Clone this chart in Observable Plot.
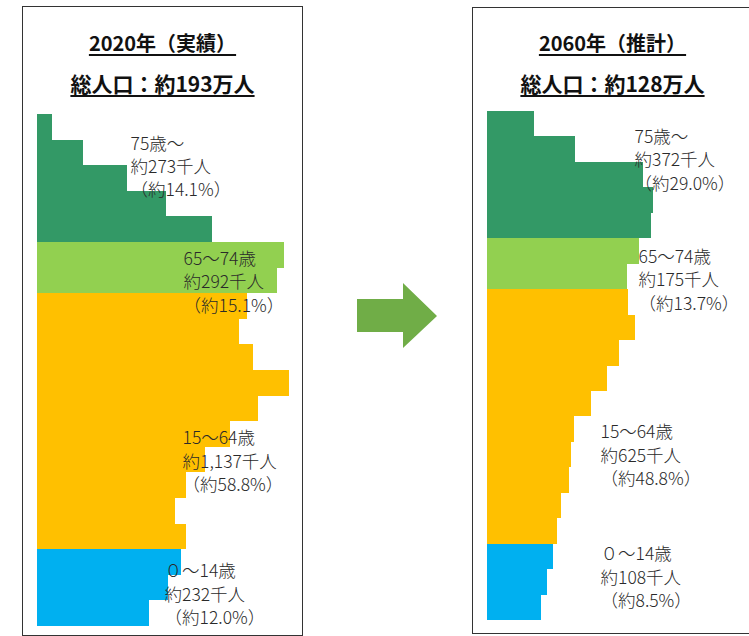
<!DOCTYPE html>
<html><head><meta charset="utf-8">
<script src="https://cdn.jsdelivr.net/npm/d3@7"></script>
<script src="https://cdn.jsdelivr.net/npm/@observablehq/plot@0.6"></script>
<style>
html,body{margin:0;padding:0;background:#fff;width:749px;height:636px;overflow:hidden;position:relative;font-family:"Noto Sans CJK JP","Noto Sans",sans-serif;}
.box{position:absolute;box-sizing:border-box;border:1.5px solid #333;}
.title{position:absolute;left:0;right:0;text-align:center;font-weight:bold;font-size:20px;line-height:24px;color:#111;}
.title span{text-decoration:underline;text-underline-offset:3px;text-decoration-thickness:1.5px;}
.chart{position:absolute;}
.arrow{position:absolute;left:357px;top:283px;width:80px;height:65px;background:#70AD47;
clip-path:polygon(0 16px,46px 16px,46px 0,80px 33px,46px 65px,46px 49px,0 49px);}
</style>
</head><body>
<div class="box" style="left:22px;top:6px;width:281px;height:630px">
  <div class="title" style="top:24px"><span>2020年（実績）</span></div>
  <div class="title" style="top:64px;font-size:21px"><span>総人口：約193万人</span></div>
</div>
<div class="box" style="left:472px;top:7px;width:281px;height:627px">
  <div class="title" style="top:23px"><span>2060年（推計）</span></div>
  <div class="title" style="top:63px;font-size:21px"><span>総人口：約128万人</span></div>
</div>
<div class="arrow"></div>
<div id="c2020" class="chart" style="left:37px;top:114px"></div>
<div id="c2060" class="chart" style="left:487px;top:111px"></div>
<script>
// Age classes, top (oldest) to bottom (youngest)
const ages = ["95+","90-94","85-89","80-84","75-79","70-74","65-69","60-64","55-59","50-54",
              "45-49","40-44","35-39","30-34","25-29","20-24","15-19","10-14","5-9","0-4"];
// Broad age group of each age class
const ageGroup = ["75+","75+","75+","75+","75+","65-74","65-74",
                  "15-64","15-64","15-64","15-64","15-64","15-64","15-64","15-64","15-64","15-64",
                  "0-14","0-14","0-14"];
const groups = ["75+","65-74","15-64","0-14"];
const groupColors = ["#339966","#92D050","#FFC000","#00B0F0"];

// Population, thousands
const pop2020 = [9,27.5,54,77.5,105,148,144,126,121,129.5,151,132.5,115.5,100.5,89.5,83,89.5,86.5,78.5,67];
const pop2060 = [28,53,93.5,99.5,98.5,91,84,84.5,89,79,72,62.5,52,50.5,49,44.5,42,39.5,36,32.5];

// Group labels
const labelNames = ["75歳～","65～74歳","15～64歳","０～14歳"];
const labels2020 = ["約273千人","約292千人","約1,137千人","約232千人"];
const shares2020 = ["（約14.1%）","（約15.1%）","（約58.8%）","（約12.0%）"];
const labels2060 = ["約372千人","約175千人","約625千人","約108千人"];
const shares2060 = ["（約29.0%）","（約13.7%）","（約48.8%）","（約8.5%）"];

const K = 1.667; // px per thousand
function chart(el, pop, counts, shares, H, place) {
  const data = ages.map((a, i) => ({age: a, value: pop[i], group: ageGroup[i]}));
  const textMarks = groups.map((g, i) => Plot.text([{
      x: place[i].x, y: place[i].row,
      t: labelNames[i] + "\n" + counts[i] + "\n" + shares[i]}], {
      x: "x", y: "y", text: "t", dy: place[i].dy,
      textAnchor: "start", lineAnchor: "middle", lineHeight: 1.34,
      fontSize: 17.5, fontWeight: 300, fill: "#2a2a2a", fontFamily: "'Noto Sans CJK JP'"}));
  const p = Plot.plot({
    width: 262, height: H + 10, margin: 0,
    style: {background: "transparent", overflow: "visible"},
    x: {domain: [0, 150], range: [0, 150 * K], axis: null},
    y: {domain: ages, range: [0, H], padding: 0, round: false, axis: null},
    color: {domain: groups, range: groupColors},
    marks: [
      Plot.barX(data, {x: "value", y: "age", fill: "group", shapeRendering: "crispEdges"}),
      ...textMarks
    ]
  });
  document.getElementById(el).appendChild(p);
}
chart("c2020", pop2020, labels2020, shares2020, 512, [
  {x: 55.8, row: "85-89", dy: -13},
  {x: 87.6, row: "65-69", dy: 0},
  {x: 87, row: "30-34", dy: 0},
  {x: 76.2, row: "5-9", dy: 5}
]);
chart("c2060", pop2060, labels2060, shares2060, 509, [
  {x: 88.2, row: "90-94", dy: 9},
  {x: 90.6, row: "65-69", dy: 2},
  {x: 67.8, row: "30-34", dy: -1},
  {x: 67.8, row: "5-9", dy: -6}
]);
</script>
</body></html>
